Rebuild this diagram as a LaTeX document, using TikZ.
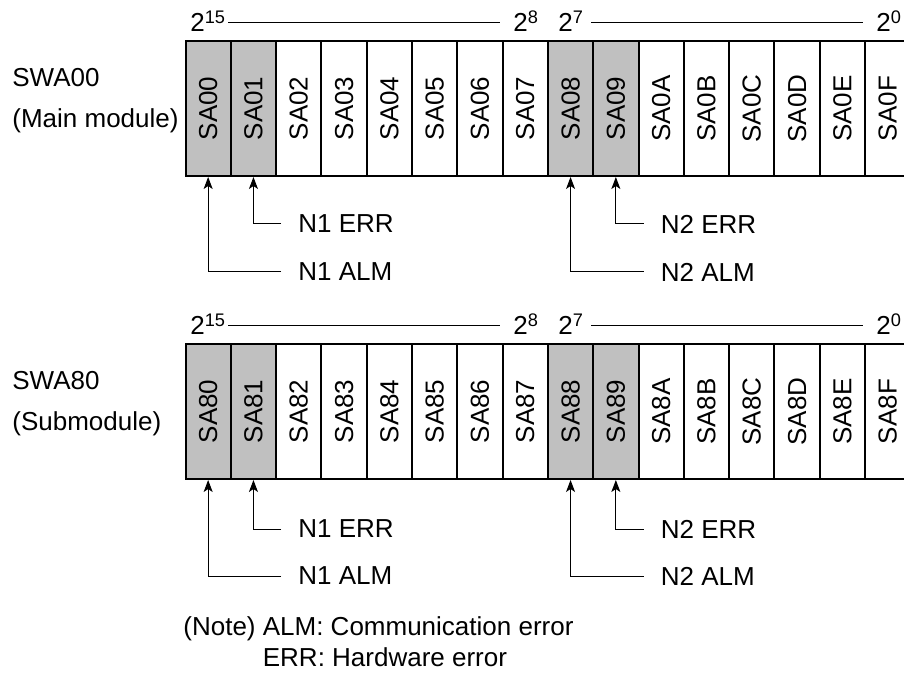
\documentclass[tikz,border=0pt]{standalone}
\usepackage{fontspec}
\setmainfont{Liberation Sans}
\usepackage{tikz}
\usetikzlibrary{arrows.meta,positioning}
\definecolor{bitgray}{RGB}{192,192,192}

\begin{document}
\begin{tikzpicture}[
    x=0.5pt, y=-0.5pt,
    font=\fontsize{13}{15.6}\selectfont,
    databit/.style={rectangle, draw=black, line width=1pt, fill=white, minimum width=22.65pt, minimum height=67.5pt, inner sep=0pt, anchor=north west},
    alarmbit/.style={databit, fill=bitgray},
    weight/.style={anchor=base west, inner sep=0pt},
    rule/.style={line width=0.5pt},
    regname/.style={anchor=west, inner sep=0pt, align=left, font=\fontsize{13}{20.5}\selectfont},
    flag/.style={anchor=west, inner xsep=8.5pt, inner ysep=0pt},
    arrow/.style={-{Stealth[length=6pt, width=4.5pt, inset=1.5pt]}, line width=0.5pt},
]
\useasboundingbox (0,0) rectangle (904,673);

% Main module register
\node[regname] (swa00) at (12,101) {SWA00\\(Main module)};
\foreach \h/\kind [count=\i from 0] in {0/alarmbit,1/alarmbit,2/databit,3/databit,4/databit,5/databit,6/databit,7/databit,8/alarmbit,9/alarmbit,A/databit,B/databit,C/databit,D/databit,E/databit,F/databit}
    \node[\kind, label={[rotate=90]center:SA0\h}] (sa0\h) at ({184.5+45.3*\i},40) {};

\node[weight] (w15a) at (190,32) {2\textsuperscript{15}};
\node[weight] (w8a) at (513,32) {2\textsuperscript{8}};
\node[weight] (w7a) at (558,32) {2\textsuperscript{7}};
\node[weight] (w0a) at (876,32) {2\textsuperscript{0}};
\draw[rule] ([shift={(38,-9)}]w15a.base west) -- ([shift={(-13,-9)}]w8a.base west);
\draw[rule] ([shift={(33,-9)}]w7a.base west) -- ([shift={(-13,-9)}]w0a.base west);

\node[flag] (n1erra) at (281,224) {N1 ERR};
\node[flag] (n1alma) at (281,272) {N1 ALM};
\node[flag] (n2erra) at (643.5,224) {N2 ERR};
\node[flag] (n2alma) at (643.5,272) {N2 ALM};
\draw[arrow] (n1erra.west) -| (sa01.south);
\draw[arrow] (n1alma.west) -| (sa00.south);
\draw[arrow] (n2erra.west) -| (sa09.south);
\draw[arrow] (n2alma.west) -| (sa08.south);

% Submodule register
\node[regname] (swa80) at (12,404) {SWA80\\(Submodule)};
\foreach \h/\kind [count=\i from 0] in {0/alarmbit,1/alarmbit,2/databit,3/databit,4/databit,5/databit,6/databit,7/databit,8/alarmbit,9/alarmbit,A/databit,B/databit,C/databit,D/databit,E/databit,F/databit}
    \node[\kind, label={[rotate=90]center:SA8\h}] (sa8\h) at ({184.5+45.3*\i},343) {};

\node[weight] (w15b) at (190,335) {2\textsuperscript{15}};
\node[weight] (w8b) at (513,335) {2\textsuperscript{8}};
\node[weight] (w7b) at (558,335) {2\textsuperscript{7}};
\node[weight] (w0b) at (876,335) {2\textsuperscript{0}};
\draw[rule] ([shift={(38,-9)}]w15b.base west) -- ([shift={(-13,-9)}]w8b.base west);
\draw[rule] ([shift={(33,-9)}]w7b.base west) -- ([shift={(-13,-9)}]w0b.base west);

\node[flag] (n1errb) at (281,529) {N1 ERR};
\node[flag] (n1almb) at (281,576) {N1 ALM};
\node[flag] (n2errb) at (643.5,529) {N2 ERR};
\node[flag] (n2almb) at (643.5,576) {N2 ALM};
\draw[arrow] (n1errb.west) -| (sa81.south);
\draw[arrow] (n1almb.west) -| (sa80.south);
\draw[arrow] (n2errb.west) -| (sa89.south);
\draw[arrow] (n2almb.west) -| (sa88.south);

% Note
\node[anchor=north west, inner sep=0pt, align=left] (note) at (183,616) {(Note) ALM: Communication error\\\phantom{(Note) }ERR: Hardware error};

\end{tikzpicture}
\end{document}
